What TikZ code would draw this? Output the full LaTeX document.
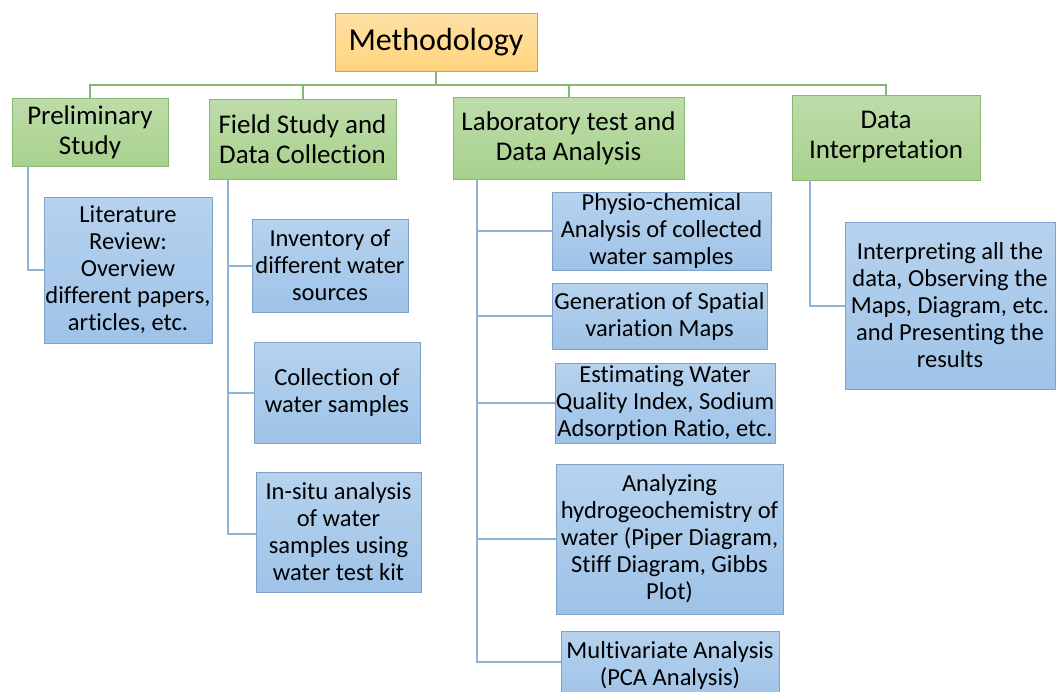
\documentclass[tikz,border=0pt]{standalone}
\usepackage{fontspec}
\setmainfont{Carlito}[Ligatures=NoCommon]
\usetikzlibrary{arrows.meta, positioning}

\definecolor{orangefill}{HTML}{FFD47E}
\definecolor{orangeline}{HTML}{C9A55C}
\definecolor{greenfill}{HTML}{A8D18D}
\definecolor{greenline}{HTML}{86B873}
\definecolor{bluefill}{HTML}{9EC3E8}
\definecolor{blueline}{HTML}{7FA3C8}
\definecolor{bluetree}{HTML}{8FB2D6}

\begin{document}
\begin{tikzpicture}[x=1pt, y=-1pt,
    mainbox/.style = {draw=orangeline, top color=orangefill!70, bottom color=orangefill,
                      minimum width=202pt, minimum height=58pt, inner sep=0pt,
                      font=\fontsize{32}{36}\selectfont},
    stagebox/.style = {draw=greenline, top color=greenfill!75, bottom color=greenfill,
                       inner sep=0pt, align=center, font=\fontsize{27}{30}\selectfont},
    taskbox/.style = {draw=blueline, top color=bluefill!75, bottom color=bluefill,
                      inner sep=0pt, align=center, font=\fontsize{24.5}{27}\selectfont},
    stageline/.style = {draw=greenline, line width=2pt},
    taskline/.style = {draw=bluetree, line width=2pt}]

    \useasboundingbox (0,0) rectangle (1056,691);
    \clip (0,0) rectangle (1056,691);

    \node[mainbox] (meth) at (436,42) {Methodology};

    \node[stagebox, minimum width=156pt, minimum height=68pt] (prelim) at (90,132) {Preliminary\\Study};
    \node[stagebox, minimum width=187pt, minimum height=80pt] (field) at (302.5,139) {Field Study and\\Data Collection};
    \node[stagebox, minimum width=231pt, minimum height=82pt] (lab) at (568.5,138) {Laboratory test and\\Data Analysis};
    \node[stagebox, minimum width=188pt, minimum height=85pt] (interp) at (886,137.5) {Data\\Interpretation};

    \node[taskbox, minimum width=168pt, minimum height=146pt] (lit) at (128,270) {Literature\\Review:\\Overview\\different papers,\\articles, etc.};

    \node[taskbox, minimum width=156pt, minimum height=93pt] (inv) at (330,265.5) {Inventory of\\different water\\sources};
    \node[taskbox, minimum width=166pt, minimum height=101pt] (coll) at (337,392.5) {Collection of\\water samples};
    \node[taskbox, minimum width=165pt, minimum height=120pt] (insitu) at (338.5,532) {In-situ analysis\\of water\\samples using\\water test kit};

    \node[taskbox, minimum width=219pt, minimum height=78pt] (phys) at (661.5,231) {Physio-chemical\\Analysis of collected\\water samples};
    \node[taskbox, minimum width=215pt, minimum height=66pt] (gen) at (659.5,316) {Generation of Spatial\\variation Maps};
    \node[taskbox, minimum width=220pt, minimum height=80pt] (est) at (665,403) {Estimating Water\\Quality Index, Sodium\\Adsorption Ratio, etc.};
    \node[taskbox, minimum width=227pt, minimum height=150pt] (ana) at (669.5,539) {Analyzing\\hydrogeochemistry of\\water (Piper Diagram,\\Stiff Diagram, Gibbs\\Plot)};
    \node[taskbox, minimum width=218pt, minimum height=68pt] (multi) at (670,665) {Multivariate Analysis\\(PCA Analysis)};

    \node[taskbox, minimum width=210pt, minimum height=167pt] (res) at (950,305.5) {Interpreting all the\\data, Observing the\\Maps, Diagram, etc.\\and Presenting the\\results};

    \coordinate (bus) at (0,85);
    \draw[stageline] (meth.south) -- (meth.south |- bus);
    \draw[stageline] (prelim.north) -- (prelim.north |- bus) -- (interp.north |- bus) -- (interp.north);
    \draw[stageline] (field.north |- bus) -- (field.north);
    \draw[stageline] (lab.north |- bus) -- (lab.north);

    \coordinate (ps) at ([xshift=16pt]prelim.south west);
    \coordinate (fs) at ([xshift=19pt]field.south west);
    \coordinate (ls) at ([xshift=24pt]lab.south west);
    \coordinate (is) at ([xshift=18pt]interp.south west);

    \draw[taskline] (ps) |- (lit.west);

    \draw[taskline] (fs) |- ([yshift=-2pt]insitu.west);
    \draw[taskline] (fs |- inv.west) -- (inv.west);
    \draw[taskline] (fs |- coll.west) -- (coll.west);

    \draw[taskline] (ls) |- ([yshift=3pt]multi.west);
    \foreach \t in {phys, gen, est, ana}
        \draw[taskline] (ls |- \t.west) -- (\t.west);

    \draw[taskline] (is) |- (res.west);
\end{tikzpicture}
\end{document}
